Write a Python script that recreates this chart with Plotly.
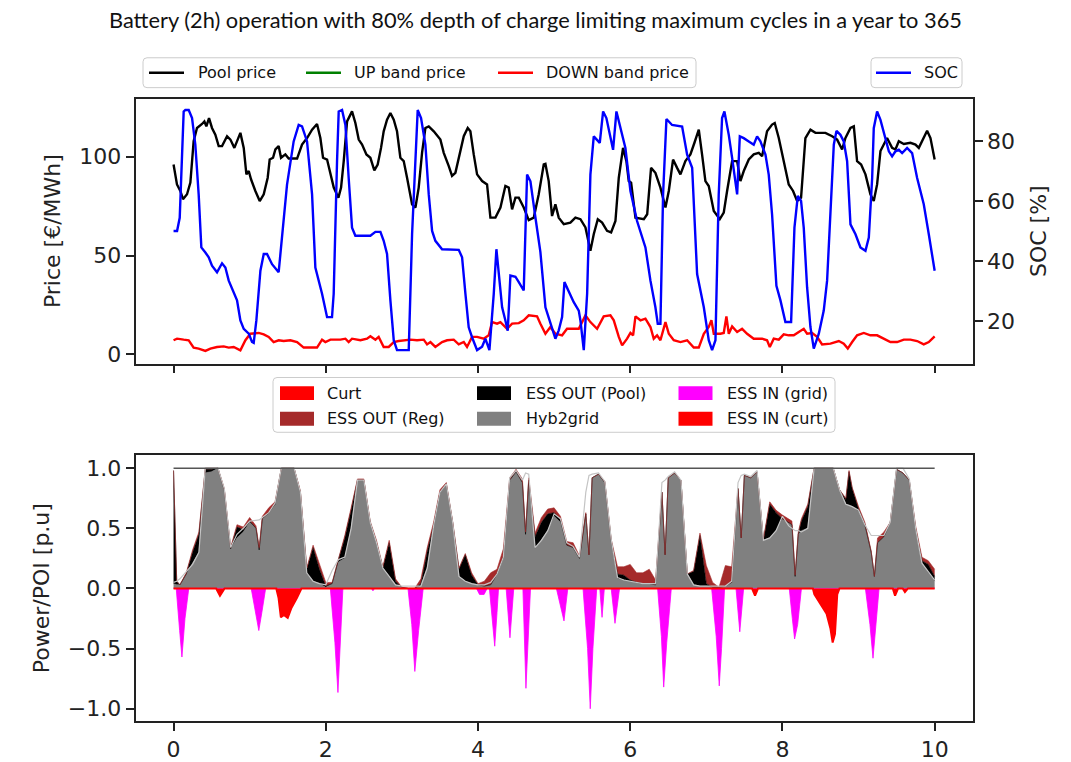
import numpy as np
import plotly.graph_objects as go

# ---------------- top panel: market prices and battery state of charge ----------------
pool_t = [0.0, 0.045, 0.089, 0.124, 0.177, 0.221, 0.264, 0.308, 0.374, 0.405, 0.431, 0.466, 0.505, 0.549,
          0.593, 0.637, 0.703, 0.747, 0.799, 0.834, 0.878, 0.922, 0.957, 0.988, 1.018, 1.075, 1.132, 1.185,
          1.237, 1.263, 1.307, 1.338, 1.381, 1.412, 1.469, 1.513, 1.623, 1.688, 1.754, 1.820, 1.885, 1.929,
          1.964, 2.017, 2.061, 2.105, 2.166, 2.201, 2.236, 2.280, 2.345, 2.389, 2.433, 2.477, 2.534, 2.586,
          2.638, 2.682, 2.726, 2.761, 2.805, 2.849, 2.893, 2.936, 2.980, 3.024, 3.068, 3.134, 3.178, 3.221,
          3.265, 3.309, 3.353, 3.419, 3.506, 3.550, 3.616, 3.659, 3.703, 3.769, 3.813, 3.865, 3.900, 3.944,
          3.988, 4.054, 4.119, 4.163, 4.229, 4.295, 4.360, 4.404, 4.448, 4.492, 4.536, 4.601, 4.667, 4.733,
          4.798, 4.864, 4.886, 4.929, 4.973, 5.017, 5.061, 5.127, 5.214, 5.280, 5.346, 5.412, 5.477, 5.521,
          5.574, 5.631, 5.696, 5.749, 5.806, 5.850, 5.906, 5.950, 5.981, 6.012, 6.069, 6.179, 6.223, 6.274,
          6.331, 6.397, 6.463, 6.507, 6.563, 6.616, 6.660, 6.725, 6.791, 6.844, 6.901, 6.944, 6.988, 7.032,
          7.098, 7.177, 7.229, 7.273, 7.339, 7.405, 7.448, 7.492, 7.558, 7.623, 7.689, 7.733, 7.798, 7.864,
          7.899, 7.952, 8.017, 8.083, 8.140, 8.193, 8.245, 8.302, 8.368, 8.434, 8.499, 8.565, 8.653, 8.719,
          8.784, 8.828, 8.894, 8.938, 8.981, 9.034, 9.091, 9.156, 9.200, 9.244, 9.288, 9.375, 9.441, 9.485,
          9.529, 9.595, 9.682, 9.748, 9.792, 9.849, 9.901, 9.945, 10.0]
pool_price = [96.1, 86.0, 82.7, 78.5, 81.0, 86.9, 107.9, 114.6, 116.6, 117.9, 115.4, 119.6, 114.6, 111.2,
              105.4, 105.4, 110.4, 108.7, 104.5, 107.9, 112.1, 104.5, 91.1, 92.8, 88.6, 82.7, 77.6, 81.0,
              89.4, 98.6, 99.5, 103.7, 105.4, 99.5, 101.2, 99.1, 99.1, 106.2, 109.5, 113.7, 116.6, 109.5,
              99.5, 98.6, 91.1, 84.4, 79.3, 84.4, 97.8, 117.9, 123.0, 117.1, 108.7, 106.2, 101.2, 99.5,
              93.1, 96.1, 104.5, 112.9, 118.8, 122.2, 118.8, 112.9, 99.5, 97.8, 89.4, 75.9, 74.3, 84.4,
              102.0, 114.6, 115.4, 112.9, 108.7, 102.0, 95.3, 90.3, 91.9, 102.9, 110.4, 114.6, 112.9, 101.2,
              91.1, 87.7, 86.0, 69.2, 69.2, 74.3, 85.2, 84.4, 73.4, 79.3, 79.3, 74.3, 67.9, 69.2,
              81.0, 96.1, 96.4, 87.7, 70.0, 75.9, 69.2, 65.9, 66.7, 69.2, 68.4, 64.2, 52.4, 60.8,
              68.4, 66.7, 62.5, 61.7, 67.5, 89.4, 104.5, 97.8, 87.7, 86.9, 69.2, 68.4, 70.9, 94.4,
              91.9, 84.4, 74.3, 82.7, 98.6, 94.4, 91.1, 97.8, 101.2, 107.1, 113.7, 101.2, 87.7, 85.2,
              72.6, 68.4, 71.7, 82.7, 97.8, 97.8, 87.7, 92.8, 98.6, 101.2, 102.0, 100.3, 112.9, 116.3,
              117.1, 109.5, 97.8, 86.0, 82.7, 77.6, 79.3, 109.5, 113.7, 112.1, 112.1, 112.1, 110.4, 108.7,
              103.7, 109.5, 114.6, 115.4, 97.8, 96.1, 91.1, 81.0, 77.6, 86.0, 102.9, 109.5, 104.5, 103.7,
              107.9, 106.5, 107.1, 106.2, 104.5, 109.5, 113.2, 109.5, 98.6]

down_t = [0.0, 0.046, 0.133, 0.199, 0.264, 0.330, 0.418, 0.484, 0.571, 0.659, 0.725, 0.790, 0.878, 0.944,
          1.009, 1.075, 1.119, 1.185, 1.250, 1.315, 1.381, 1.447, 1.535, 1.623, 1.710, 1.885, 1.951, 1.995,
          2.061, 2.192, 2.258, 2.301, 2.345, 2.455, 2.542, 2.586, 2.652, 2.695, 2.761, 2.827, 2.893, 2.958,
          3.024, 3.112, 3.199, 3.287, 3.331, 3.375, 3.440, 3.528, 3.594, 3.681, 3.747, 3.813, 3.856, 3.922,
          3.988, 4.075, 4.141, 4.185, 4.251, 4.295, 4.382, 4.448, 4.536, 4.601, 4.667, 4.776, 4.820, 4.886,
          4.951, 5.017, 5.105, 5.170, 5.258, 5.324, 5.412, 5.477, 5.565, 5.652, 5.740, 5.784, 5.850, 5.894,
          5.959, 6.003, 6.038, 6.069, 6.135, 6.200, 6.266, 6.309, 6.353, 6.397, 6.463, 6.507, 6.572, 6.660,
          6.748, 6.835, 6.901, 6.967, 7.032, 7.067, 7.098, 7.185, 7.229, 7.264, 7.295, 7.339, 7.405, 7.470,
          7.536, 7.623, 7.733, 7.798, 7.834, 7.886, 7.952, 8.017, 8.083, 8.149, 8.215, 8.280, 8.324, 8.390,
          8.456, 8.521, 8.631, 8.741, 8.806, 8.859, 8.916, 8.981, 9.069, 9.156, 9.244, 9.332, 9.419, 9.507,
          9.595, 9.682, 9.770, 9.857, 9.923, 10.0]
down_price = [7.1, 7.9, 7.4, 7.1, 3.4, 2.9, 1.7, 2.9, 3.7, 4.0, 3.4, 3.7, 2.0, 7.1,
              10.4, 10.8, 10.8, 10.1, 8.8, 6.2, 7.1, 6.7, 7.1, 6.2, 3.4, 3.4, 7.4, 6.2,
              7.4, 7.4, 7.9, 6.2, 7.9, 7.1, 7.9, 9.1, 7.4, 8.8, 3.7, 3.7, 6.2, 6.7,
              7.1, 7.4, 7.1, 7.4, 5.0, 6.2, 3.7, 6.2, 7.1, 7.4, 5.0, 6.2, 3.7, 8.8,
              8.8, 7.9, 9.6, 16.3, 15.5, 16.3, 12.9, 15.5, 15.8, 17.2, 19.7, 19.2, 15.5, 10.4,
              13.8, 10.4, 9.6, 12.9, 12.9, 12.9, 19.7, 16.3, 12.9, 19.2, 19.7, 17.2, 8.8, 4.5,
              7.9, 10.8, 9.6, 19.2, 17.2, 18.0, 13.8, 7.9, 9.6, 7.1, 16.3, 10.4, 7.1, 6.2,
              7.1, 3.4, 3.4, 10.4, 13.8, 17.2, 10.4, 10.4, 10.8, 19.2, 10.4, 14.1, 11.3, 12.9,
              10.4, 7.9, 7.9, 7.1, 3.7, 7.9, 7.4, 10.1, 9.6, 9.6, 11.3, 12.9, 10.4, 10.8,
              8.8, 5.0, 5.4, 6.7, 5.4, 2.9, 6.2, 9.6, 10.8, 9.6, 9.6, 7.9, 6.2, 6.2,
              7.4, 7.4, 6.7, 5.0, 6.2, 9.1]

# UP band price carries no values over this horizon
up_t = []
up_price = []

soc_t = [0.0, 0.046, 0.081, 0.133, 0.155, 0.199, 0.243, 0.286, 0.330, 0.365, 0.418, 0.462, 0.505, 0.571,
         0.637, 0.681, 0.725, 0.790, 0.834, 0.878, 0.922, 0.988, 1.031, 1.053, 1.088, 1.141, 1.185, 1.228,
         1.294, 1.381, 1.425, 1.491, 1.578, 1.644, 1.688, 1.754, 1.820, 1.863, 1.951, 2.017, 2.082, 2.104,
         2.148, 2.170, 2.214, 2.258, 2.301, 2.345, 2.389, 2.586, 2.652, 2.718, 2.761, 2.805, 2.849, 2.893,
         2.936, 3.090, 3.134, 3.178, 3.208, 3.252, 3.309, 3.353, 3.397, 3.440, 3.528, 3.747, 3.791, 3.835,
         3.878, 3.922, 3.988, 4.054, 4.097, 4.150, 4.207, 4.242, 4.273, 4.317, 4.360, 4.391, 4.426, 4.492,
         4.536, 4.601, 4.645, 4.689, 4.755, 4.820, 4.886, 4.951, 5.017, 5.061, 5.105, 5.136, 5.193, 5.258,
         5.324, 5.346, 5.390, 5.434, 5.477, 5.521, 5.600, 5.644, 5.687, 5.740, 5.775, 5.819, 5.872, 5.937,
         6.003, 6.090, 6.200, 6.266, 6.331, 6.362, 6.397, 6.432, 6.476, 6.550, 6.682, 6.748, 6.814, 6.879,
         6.967, 7.032, 7.076, 7.120, 7.163, 7.207, 7.238, 7.295, 7.339, 7.405, 7.440, 7.492, 7.558, 7.623,
         7.667, 7.711, 7.777, 7.820, 7.864, 7.921, 7.974, 8.039, 8.114, 8.158, 8.202, 8.245, 8.280, 8.324,
         8.368, 8.412, 8.478, 8.543, 8.587, 8.631, 8.675, 8.710, 8.762, 8.806, 8.850, 8.894, 8.960, 9.025,
         9.091, 9.135, 9.179, 9.200, 9.244, 9.288, 9.354, 9.398, 9.441, 9.485, 9.529, 9.573, 9.638, 9.704,
         9.770, 9.857, 9.923, 10.0]
soc = [50.1, 50.1, 54.5, 90.0, 90.5, 90.5, 87.8, 78.9, 62.3, 44.6, 42.9, 41.3, 38.5, 36.3,
       39.3, 37.9, 33.5, 29.6, 26.9, 20.2, 17.4, 15.8, 13.0, 12.7, 20.2, 36.8, 42.4, 42.4,
       39.0, 36.3, 49.0, 65.6, 80.0, 85.5, 85.0, 80.0, 62.3, 37.9, 29.1, 21.3, 21.3, 29.1,
       73.4, 90.0, 90.5, 85.5, 67.8, 51.2, 48.5, 48.5, 49.8, 49.8, 46.8, 42.4, 26.9, 13.6,
       10.3, 10.3, 49.0, 73.4, 90.5, 87.8, 78.9, 62.3, 50.1, 46.8, 44.0, 43.8, 41.3, 29.1,
       17.9, 14.6, 10.3, 11.4, 14.1, 10.3, 29.1, 44.0, 35.7, 24.6, 20.2, 16.8, 35.2, 34.8,
       33.0, 30.2, 68.9, 66.7, 54.5, 43.0, 24.6, 19.1, 14.1, 16.9, 21.3, 33.0, 29.6, 26.3,
       23.5, 20.2, 10.3, 29.1, 68.9, 81.7, 79.5, 90.0, 87.8, 81.1, 77.2, 90.0, 84.4, 77.8,
       63.4, 53.4, 44.6, 33.5, 24.6, 19.1, 19.1, 62.3, 87.5, 85.5, 85.0, 75.6, 71.2, 35.7,
       24.6, 13.6, 10.3, 13.6, 62.3, 87.8, 90.0, 82.2, 74.5, 62.3, 81.7, 81.1, 80.0, 78.9,
       81.7, 80.0, 75.6, 68.9, 55.6, 31.8, 26.9, 19.7, 19.7, 51.2, 61.8, 60.1, 51.2, 31.3,
       18.0, 10.8, 15.8, 23.5, 33.5, 56.8, 78.9, 83.5, 82.2, 80.0, 73.4, 52.3, 49.0, 44.6,
       43.5, 47.9, 67.8, 84.4, 90.0, 87.2, 81.1, 76.7, 75.0, 76.7, 77.2, 76.1, 77.8, 76.1,
       67.8, 59.0, 49.0, 36.8]

# ---------------- bottom panel: power flows at the POI ----------------
# sample hours (2-hourly, with extra hourly samples around sharp changes); one row per day
flow_hours = [0, 1, 2, 4, 6, 8, 10, 12, 14, 16, 18, 20, 22,
              24, 26, 27, 28, 30, 32, 34, 36, 38, 40, 42, 44, 46,
              48, 50, 52, 54, 56, 58, 60, 62, 64, 66, 68, 70,
              72, 74, 76, 78, 80, 82, 84, 86, 88, 90, 92, 94,
              96, 98, 100, 102, 104, 106, 108, 110, 111, 112, 114, 116, 118,
              120, 122, 124, 126, 128, 130, 131, 132, 134, 136, 138, 140, 142,
              144, 146, 148, 150, 152, 153, 154, 155, 156, 158, 160, 162, 164, 166,
              168, 170, 172, 174, 176, 178, 179, 180, 182, 184, 186, 188, 190,
              192, 194, 195, 196, 197, 198, 200, 202, 204, 206, 208, 210, 212, 213, 214,
              216, 218, 220, 221, 222, 224, 226, 228, 230, 232, 234, 236, 238,
              240]
hyb2grid = [0.04, 0.03, 0.03, 0.12, 0.20, 0.30, 0.96, 0.97, 1.00, 0.82, 0.33, 0.42, 0.47,
            0.55, 0.50, 0.32, 0.58, 0.62, 0.70, 1.00, 1.00, 1.00, 0.80, 0.12, 0.06, 0.04,
            0.01, 0.04, 0.22, 0.25, 0.50, 0.90, 0.90, 0.55, 0.38, 0.17, 0.10, 0.03,
            0.01, 0.00, 0.00, 0.02, 0.17, 0.52, 0.80, 0.87, 0.55, 0.10, 0.06, 0.04,
            0.03, 0.02, 0.03, 0.12, 0.26, 0.90, 0.97, 0.88, 0.45, 0.90, 0.33, 0.40, 0.48,
            0.60, 0.55, 0.36, 0.34, 0.25, 0.62, 0.28, 0.92, 0.95, 0.88, 0.40, 0.08, 0.07,
            0.06, 0.05, 0.04, 0.04, 0.03, 0.40, 0.80, 0.28, 0.92, 0.96, 0.90, 0.12, 0.03, 0.02,
            0.02, 0.01, 0.01, 0.02, 0.05, 0.83, 0.42, 0.94, 0.92, 0.97, 0.40, 0.42, 0.48,
            0.58, 0.55, 0.53, 0.10, 0.45, 0.48, 0.50, 1.00, 1.00, 1.00, 1.00, 0.82, 0.70, 0.69, 0.68,
            0.64, 0.53, 0.30, 0.10, 0.38, 0.43, 0.55, 0.99, 0.96, 0.90, 0.50, 0.21, 0.13,
            0.06]
ess_out_pool = [0.94, 0.03, 0, 0, 0.10, 0.15, 0.03, 0.02, 0, 0, 0, 0.09, 0.02,
                0.01, 0, 0, 0, 0.01, 0, 0, 0, 0, 0, 0.04, 0.28, 0.12,
                0.01, 0, 0.02, 0.17, 0.15, 0, 0, 0, 0, 0, 0.28, 0.03,
                0, 0, 0, 0.02, 0.14, 0, 0, 0, 0, 0.06, 0.22, 0.07,
                0, 0, 0, 0, 0, 0, 0, 0, 0, 0, 0.10, 0.15, 0.14,
                0.03, 0.02, 0, 0, 0, 0, 0, 0, 0, 0, 0, 0.04, 0.04,
                0.01, 0, 0, 0, 0, 0, 0, 0, 0, 0, 0, 0, 0.11, 0.42,
                0.02, 0, 0, 0, 0, 0, 0, 0, 0, 0, 0, 0.28, 0.15,
                0, 0, 0, 0, 0, 0.08, 0.18, 0, 0, 0, 0, 0, 0.04, 0.28, 0.15,
                0.02, 0, 0, 0, 0, 0, 0, 0, 0, 0, 0, 0.02, 0.07,
                0.04]
ess_out_reg = [0, 0, 0, 0.01, 0.02, 0.02, 0.01, 0.01, 0, 0.01, 0.01, 0.02, 0.02,
               0.03, 0.02, 0.02, 0.02, 0.04, 0.02, 0, 0, 0, 0.01, 0.01, 0.02, 0.04,
               0.03, 0.01, 0.01, 0.02, 0.02, 0.01, 0.01, 0.01, 0.02, 0.01, 0.02, 0.02,
               0, 0, 0, 0.04, 0.03, 0.03, 0.02, 0.01, 0.01, 0.01, 0.01, 0.02,
               0.01, 0.04, 0.10, 0.04, 0.07, 0.02, 0.02, 0.03, 0.02, 0.02, 0.03, 0.04, 0.04,
               0.04, 0.03, 0.03, 0.04, 0.02, 0.01, 0, 0, 0, 0.01, 0.01, 0.06, 0.07,
               0.13, 0.08, 0.09, 0.12, 0.04, 0.01, 0, 0, 0, 0, 0, 0, 0.01, 0.02,
               0.15, 0.04, 0, 0.17, 0.13, 0, 0, 0, 0, 0, 0.01, 0.02, 0.02,
               0.03, 0.03, 0.03, 0.01, 0.02, 0.02, 0.02, 0, 0, 0, 0, 0, 0.01, 0.01, 0.01,
               0.02, 0.02, 0.01, 0, 0.04, 0.04, 0, 0, 0, 0, 0.02, 0.03, 0.03,
               0.06]
generation = [0.05, 0.06, 0.08, 0.14, 0.20, 0.30, 1.00, 1.00, 1.00, 0.83, 0.34, 0.45, 0.50,
              0.56, 0.57, 0.57, 0.59, 0.63, 0.71, 1.00, 1.00, 1.00, 0.80, 0.13, 0.06, 0.04,
              0.03, 0.15, 0.24, 0.26, 0.50, 0.90, 0.90, 0.55, 0.38, 0.17, 0.10, 0.03,
              0.02, 0.02, 0.02, 0.02, 0.17, 0.52, 0.80, 0.87, 0.55, 0.10, 0.06, 0.04,
              0.03, 0.03, 0.05, 0.12, 0.26, 0.92, 0.98, 0.90, 0.96, 0.95, 0.34, 0.40, 0.48,
              0.62, 0.58, 0.38, 0.35, 0.26, 0.80, 0.94, 0.95, 0.96, 0.89, 0.41, 0.09, 0.07,
              0.06, 0.05, 0.04, 0.04, 0.04, 0.45, 0.88, 0.90, 0.93, 0.97, 0.90, 0.12, 0.03, 0.02,
              0.02, 0.02, 0.02, 0.02, 0.06, 0.88, 0.94, 0.95, 0.93, 0.98, 0.40, 0.42, 0.48,
              0.60, 0.52, 0.50, 0.48, 0.48, 0.47, 0.50, 1.00, 1.00, 1.00, 1.00, 0.82, 0.70, 0.69, 0.68,
              0.65, 0.53, 0.44, 0.44, 0.44, 0.44, 0.55, 1.00, 1.00, 0.91, 0.50, 0.21, 0.14,
              0.07]
flow_t = np.array(flow_hours) / 24.0

ess_in_grid_t = [0, 0.035, 0.08, 0.11, 0.15, 0.2,
                 1.02, 1.08, 1.12, 1.16, 1.21,
                 2.06, 2.12, 2.16, 2.19, 2.225,
                 2.6, 2.62, 2.64,
                 3.08, 3.13, 3.17, 3.22, 3.28,
                 3.98, 4.02, 4.08, 4.12,
                 4.15, 4.19, 4.22, 4.25, 4.27,
                 4.37, 4.42, 4.47,
                 4.59, 4.63, 4.69,
                 5.03, 5.09, 5.13, 5.18,
                 5.38, 5.44, 5.475, 5.51, 5.56,
                 5.6, 5.63, 5.66,
                 5.75, 5.8, 5.86,
                 6.36, 6.41, 6.44, 6.48, 6.54,
                 7.07, 7.13, 7.17, 7.2, 7.24,
                 7.39, 7.44, 7.49,
                 8.09, 8.13, 8.16, 8.2, 8.25,
                 9.09, 9.15, 9.19, 9.23, 9.27,
                 10.0]
ess_in_grid = [0, 0, -0.35, -0.57, -0.25, 0,
               0, -0.2, -0.35, -0.2, 0,
               0, -0.45, -0.865, -0.5, 0,
               0, -0.02, 0,
               0, -0.3, -0.69, -0.35, 0,
               0, -0.05, -0.05, 0,
               0, -0.3, -0.48, -0.2, 0,
               0, -0.41, 0,
               0, -0.83, 0,
               0, -0.15, -0.27, 0,
               0, -0.5, -1.0, -0.5, 0,
               0, -0.24, 0,
               0, -0.29, 0,
               0, -0.4, -0.82, -0.45, 0,
               0, -0.4, -0.81, -0.5, 0,
               0, -0.36, 0,
               0, -0.25, -0.42, -0.3, 0,
               0, -0.3, -0.58, -0.3, 0,
               0]

ess_in_curt_t = [0, 0.56, 0.61, 0.67,
                 1.35, 1.38, 1.41, 1.45, 1.5, 1.55, 1.62, 1.68,
                 7.6, 7.64, 7.68,
                 8.4, 8.42, 8.49, 8.58, 8.63, 8.66, 8.69, 8.72, 8.75,
                 9.45, 9.48, 9.52,
                 9.58, 9.61, 9.65,
                 10.0]
ess_in_curt = [0, 0, -0.06, 0,
               0, -0.08, -0.24, -0.22, -0.245, -0.16, -0.08, 0,
               0, -0.06, 0,
               0, -0.05, -0.12, -0.21, -0.33, -0.45, -0.38, -0.05, 0,
               0, -0.06, 0,
               0, -0.03, 0,
               0]

poi_t = [0.0, 10.0]
poi_limit = [1.0, 1.0]

x_ticks = [0, 2, 4, 6, 8, 10]

# ---------------- figure geometry (pixels of a 1071 x 762 canvas) ----------------
W, H = 1071, 762


def px(x):
    return x / W


def py(y):
    return 1 - y / H


AX_L, AX_R = 135.5, 972.7
TOP_T, TOP_B = 99.3, 365.0
BOT_T, BOT_B = 457.3, 724.0

AX_COLOR = "#222222"
TICK_FONT = dict(family="DejaVu Sans", size=22, color="#222222")
LEG_FONT = dict(family="DejaVu Sans", size=16, color="#111111")

fig = go.Figure()

# top panel lines
fig.add_trace(go.Scatter(x=pool_t, y=pool_price, mode="lines", name="Pool price",
                         line=dict(color="black", width=2.4), xaxis="x", yaxis="y", showlegend=False))
fig.add_trace(go.Scatter(x=up_t, y=up_price, mode="lines", name="UP band price",
                         line=dict(color="#008000", width=2.4), xaxis="x", yaxis="y", showlegend=False))
fig.add_trace(go.Scatter(x=down_t, y=down_price, mode="lines", name="DOWN band price",
                         line=dict(color="#ff0000", width=2.4), xaxis="x", yaxis="y", showlegend=False))
fig.add_trace(go.Scatter(x=soc_t, y=soc, mode="lines", name="SOC",
                         line=dict(color="#0000ff", width=2.4), xaxis="x", yaxis="y2", showlegend=False))

# bottom panel: stacked output flows
for name, vals, col in [("Hyb2grid", hyb2grid, "#808080"),
                        ("ESS OUT (Pool)", ess_out_pool, "#000000"),
                        ("ESS OUT (Reg)", ess_out_reg, "#a52a2a")]:
    fig.add_trace(go.Scatter(x=flow_t, y=vals, mode="lines", name=name, stackgroup="out",
                             fillcolor=col, line=dict(color=col, width=0.6),
                             xaxis="x2", yaxis="y3", showlegend=False))

# bottom panel: charging flows (negative)
fig.add_trace(go.Scatter(x=ess_in_grid_t, y=ess_in_grid, mode="lines", name="ESS IN (grid)",
                         fill="tozeroy", fillcolor="#ff00ff", line=dict(color="#ff00ff", width=0.8),
                         xaxis="x2", yaxis="y3", showlegend=False))
fig.add_trace(go.Scatter(x=ess_in_curt_t, y=ess_in_curt, mode="lines", name="ESS IN (curt)",
                         fill="tozeroy", fillcolor="#ff0000", line=dict(color="#ff0000", width=2),
                         xaxis="x2", yaxis="y3", showlegend=False))

# generation profile and POI limit
fig.add_trace(go.Scatter(x=flow_t, y=generation, mode="lines", name="Generation",
                         line=dict(color="#c4c4c4", width=1.2), xaxis="x2", yaxis="y3", showlegend=False))
fig.add_trace(go.Scatter(x=poi_t, y=poi_limit, mode="lines", name="POI",
                         line=dict(color="#555555", width=1.5), xaxis="x2", yaxis="y3", showlegend=False))

axis_common = dict(showgrid=False, zeroline=False, showline=True, linecolor=AX_COLOR, linewidth=1.8,
                   ticks="outside", ticklen=8, tickwidth=1.8, tickcolor=AX_COLOR, tickfont=TICK_FONT)

fig.update_layout(
    width=W, height=H, autosize=False,
    margin=dict(l=0, r=0, t=0, b=0),
    paper_bgcolor="white", plot_bgcolor="white",
    xaxis=dict(domain=[px(AX_L), px(AX_R)], anchor="y", range=[-0.5, 10.5],
               tickvals=x_ticks, showticklabels=False, mirror=True, **axis_common),
    yaxis=dict(domain=[py(TOP_B), py(TOP_T)], anchor="x", range=[-4.7, 129.3],
               tickvals=[0, 50, 100], mirror=True, **axis_common),
    yaxis2=dict(overlaying="y", side="right", anchor="x", range=[5.8, 94.2],
                tickvals=[20, 40, 60, 80], **axis_common),
    xaxis2=dict(domain=[px(AX_L), px(AX_R)], anchor="y3", range=[-0.5, 10.5],
                tickvals=x_ticks, mirror=True, **axis_common),
    yaxis3=dict(domain=[py(BOT_B), py(BOT_T)], anchor="x2", range=[-1.103, 1.105],
                tickvals=[-1, -0.5, 0, 0.5, 1],
                ticktext=["\u22121.0", "\u22120.5", "0.0", "0.5", "1.0"], mirror=True, **axis_common),
)

annotations = []
shapes = []

# title
annotations.append(dict(text="Battery (2h) operation with 80% depth of charge limiting maximum cycles in a year to 365",
                        x=0.5, y=py(20), xref="paper", yref="paper", xanchor="center", yanchor="middle",
                        showarrow=False, font=dict(family="Lato", size=21.8, color="#111111")))

# axis titles
for txt, xc, yc in [("Price [€/MWh]", 52, 232), ("SOC [%]", 1038, 232), ("Power/POI [p.u]", 41.5, 591)]:
    annotations.append(dict(text=txt, x=px(xc), y=py(yc), xref="paper", yref="paper",
                            xanchor="center", yanchor="middle", textangle=-90, showarrow=False,
                            font=dict(family="DejaVu Sans", size=22, color="#222222")))


def legend_box(x0, y0, x1, y1, r=4):
    path = (f"M {px(x0 + r)} {py(y0)} L {px(x1 - r)} {py(y0)} Q {px(x1)} {py(y0)} {px(x1)} {py(y0 + r)} "
            f"L {px(x1)} {py(y1 - r)} Q {px(x1)} {py(y1)} {px(x1 - r)} {py(y1)} "
            f"L {px(x0 + r)} {py(y1)} Q {px(x0)} {py(y1)} {px(x0)} {py(y1 - r)} "
            f"L {px(x0)} {py(y0 + r)} Q {px(x0)} {py(y0)} {px(x0 + r)} {py(y0)} Z")
    shapes.append(dict(type="path", path=path, xref="paper", yref="paper",
                       line=dict(color="#cccccc", width=1), fillcolor="rgba(255,255,255,0.8)", layer="above"))


def legend_text(txt, x, y):
    annotations.append(dict(text=txt, x=px(x), y=py(y), xref="paper", yref="paper",
                            xanchor="left", yanchor="middle", showarrow=False, font=LEG_FONT))


# top legends
legend_box(143, 58, 696, 88)
legend_box(871, 58, 962, 88)
for label, col, x0, xt in [("Pool price", "black", 149, 196),
                           ("UP band price", "#008000", 306, 352),
                           ("DOWN band price", "#ff0000", 498, 544),
                           ("SOC", "#0000ff", 876, 921.5)]:
    shapes.append(dict(type="line", x0=px(x0), x1=px(x0 + 35), y0=py(73), y1=py(73),
                       xref="paper", yref="paper", line=dict(color=col, width=2.4), layer="above"))
    legend_text(label, xt, 73)

# bottom legend
legend_box(273, 379, 835, 434)
for label, col, x0, xt, yc in [("Curt", "#ff0000", 280, 325, 394.7),
                               ("ESS OUT (Reg)", "#a52a2a", 280, 325, 420.5),
                               ("ESS OUT (Pool)", "#000000", 477, 524, 394.7),
                               ("Hyb2grid", "#808080", 477, 524, 420.5),
                               ("ESS IN (grid)", "#ff00ff", 678.5, 724.5, 394.7),
                               ("ESS IN (curt)", "#ff0000", 678.5, 724.5, 420.5)]:
    shapes.append(dict(type="rect", x0=px(x0), x1=px(x0 + 34), y0=py(yc - 7), y1=py(yc + 7),
                       xref="paper", yref="paper", line=dict(width=0), fillcolor=col, layer="above"))
    legend_text(label, xt, yc)

fig.update_layout(annotations=annotations, shapes=shapes)

fig.write_html("out.html")
